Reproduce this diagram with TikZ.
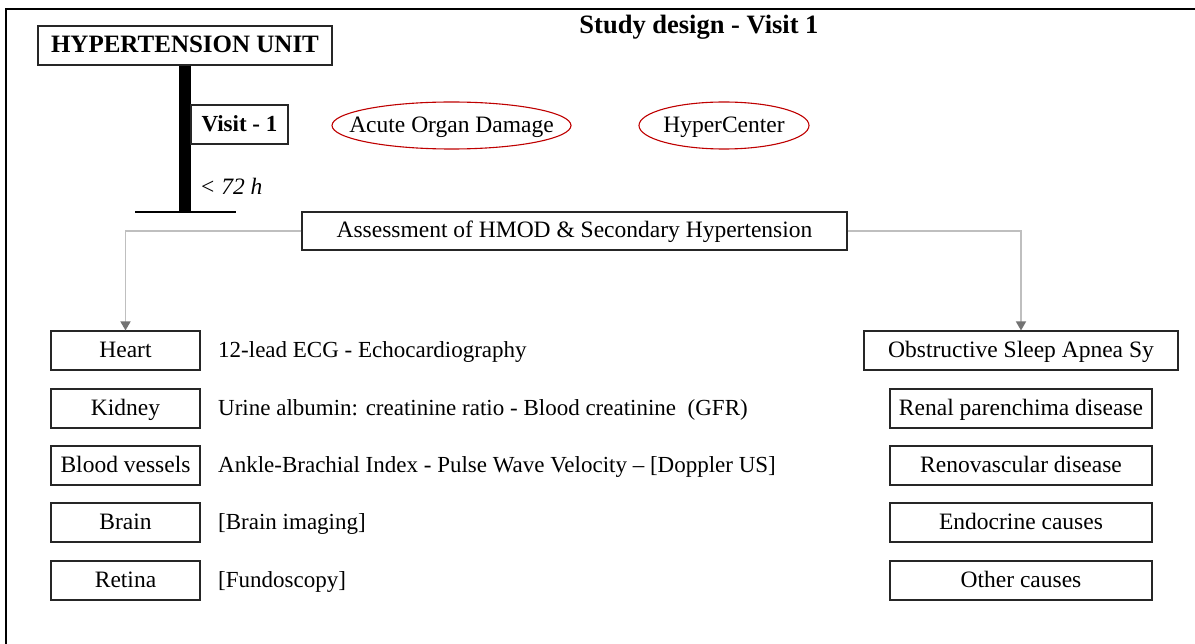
\documentclass[tikz,border=0pt]{standalone}
\usepackage{fontspec}
\setmainfont{Liberation Serif}
\usetikzlibrary{arrows.meta,shapes.geometric}
\begin{document}
\begin{tikzpicture}[x=1pt,y=-1pt,
  txt/.style={font=\fontsize{23.5}{27}\selectfont, text height=18pt, text depth=4pt},
  box/.style={txt, draw=black!85, line width=1.1pt, minimum height=39pt, inner sep=0pt},
  bbox/.style={box, font=\fontsize{23}{27}\selectfont\bfseries},
  ell/.style={draw=red!75!black, line width=1.1pt},
  conn/.style={draw=black!25, line width=1.5pt, -{Triangle[length=9pt,width=10pt,color=black!55]}},
  desc/.style={txt, font=\fontsize{23}{27}\selectfont, anchor=west, inner sep=0pt}]
\useasboundingbox (0,0) rectangle (1195,644);
\fill[white] (0,0) rectangle (1195,644);
\draw[line width=2.2pt] (6,644) -- (6,9) -- (1195,9);
% title
\node[font=\fontsize{26.5}{30}\selectfont\bfseries, inner sep=0pt] (title) at (699,27) {Study design - Visit 1};
% hypertension unit
\node[bbox, minimum width=294pt, font=\fontsize{25}{28}\selectfont\bfseries] (hu) at (185,45.5) {HYPERTENSION UNIT};
\coordinate (base) at (185,212);
\draw[line width=12pt] (hu.south) -- (base);
\draw[line width=1.2pt] ([xshift=-50pt]base) -- ([xshift=51pt]base);
\node[bbox, minimum width=97pt] (visit) at (239.5,124.5) {Visit - 1};
\node[txt, font=\fontsize{23.5}{27}\selectfont\itshape, inner sep=0pt] (hours) at (231,188) {< 72 h};
% ellipses
\node[txt, inner sep=0pt] (aod) at (451.5,125.5) {Acute Organ Damage};
\draw[ell] (aod.center) ellipse [x radius=119.5pt, y radius=23.5pt];
\node[txt, inner sep=0pt] (hc) at (724,125.5) {HyperCenter};
\draw[ell] (hc.center) ellipse [x radius=85pt, y radius=23.5pt];
% assessment
\node[box, minimum width=545pt, minimum height=38pt] (assess) at (574.5,231) {Assessment of HMOD \& Secondary Hypertension};
% left column
\node[box, minimum width=149pt] (heart) at (125.5,350.5) {Heart};
\node[box, minimum width=149pt] (kidney) at (125.5,408.5) {Kidney};
\node[box, minimum width=149pt] (vessels) at (125.5,465.5) {Blood vessels};
\node[box, minimum width=149pt] (brain) at (125.5,522.5) {Brain};
\node[box, minimum width=149pt] (retina) at (125.5,580.5) {Retina};
\node[desc] (dheart) at (218,350.5) {12-lead ECG - Echocardiography};
\node[desc] (dkidney) at (218,408.5) {Urine albumin: creatinine ratio - Blood creatinine\ \ (GFR)};
\node[desc] (dvessels) at (218,465.5) {Ankle-Brachial Index - Pulse Wave Velocity – [Doppler US]};
\node[desc] (dbrain) at (218,522.5) {[Brain imaging]};
\node[desc] (dretina) at (218,580.5) {[Fundoscopy]};
% right column
\node[box, minimum width=314pt] (osa) at (1021,350.5) {Obstructive Sleep Apnea Sy};
\node[box, minimum width=262pt] (renal) at (1021,408.5) {Renal parenchima disease};
\node[box, minimum width=262pt] (renovasc) at (1021,465.5) {Renovascular disease};
\node[box, minimum width=262pt] (endo) at (1021,522.5) {Endocrine causes};
\node[box, minimum width=262pt] (other) at (1021,580.5) {Other causes};
% connectors
\draw[conn] (assess.west) -| (heart.north);
\draw[conn] (assess.east) -| (osa.north);
\end{tikzpicture}
\end{document}
